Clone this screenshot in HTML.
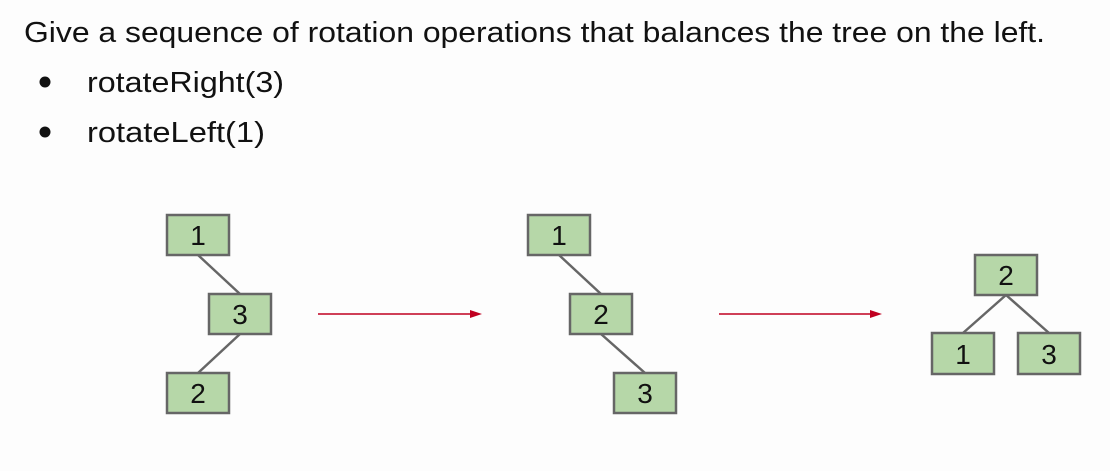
<!DOCTYPE html>
<html><head><meta charset="utf-8"><style>
html,body{margin:0;padding:0;background:#fdfdfd;}
svg{display:block;}
text{font-family:"Liberation Sans",sans-serif;}
</style></head><body>
<svg width="1110" height="471" viewBox="0 0 1110 471" xmlns="http://www.w3.org/2000/svg">
<rect width="1110" height="471" fill="#fdfdfd"/>
<text x="24" y="42" font-size="29" fill="#111" textLength="1021" lengthAdjust="spacingAndGlyphs">Give a sequence of rotation operations that balances the tree on the left.</text>
<circle cx="45" cy="82" r="5.5" fill="#111"/>
<circle cx="45" cy="132" r="5.5" fill="#111"/>
<text x="87" y="92" font-size="29" fill="#111" textLength="197" lengthAdjust="spacingAndGlyphs">rotateRight(3)</text>
<text x="87" y="142" font-size="29" fill="#111" textLength="178" lengthAdjust="spacingAndGlyphs">rotateLeft(1)</text>
<g stroke="#666" stroke-width="2.5">
<line x1="198" y1="255" x2="240" y2="294"/>
<line x1="240" y1="334" x2="198" y2="373"/>
<line x1="559" y1="255" x2="601" y2="294"/>
<line x1="601" y1="334" x2="645" y2="373"/>
<line x1="1006" y1="295" x2="963" y2="333"/>
<line x1="1006" y1="295" x2="1049" y2="333"/>
</g>
<g fill="#b6d7a8" stroke="#666" stroke-width="2.5">
<rect x="167" y="215" width="62" height="40"/>
<rect x="209" y="294" width="62" height="40"/>
<rect x="167" y="373" width="62" height="40"/>
<rect x="528" y="215" width="62" height="40"/>
<rect x="570" y="294" width="62" height="40"/>
<rect x="614" y="373" width="62" height="40"/>
<rect x="975" y="255" width="62" height="40"/>
<rect x="932" y="333" width="62" height="41"/>
<rect x="1018" y="333" width="62" height="41"/>
</g>
<g font-size="28" fill="#111" text-anchor="middle">
<text x="198" y="245">1</text>
<text x="240" y="324">3</text>
<text x="198" y="403">2</text>
<text x="559" y="245">1</text>
<text x="601" y="324">2</text>
<text x="645" y="403">3</text>
<text x="1006" y="285">2</text>
<text x="963" y="364">1</text>
<text x="1049" y="364">3</text>
</g>
<g stroke="#c00020" stroke-width="1.5">
<line x1="318" y1="314" x2="472" y2="314"/>
<line x1="719" y1="314" x2="872" y2="314"/>
</g>
<g fill="#c00020">
<polygon points="470,310 482,314 470,318"/>
<polygon points="870,310 882,314 870,318"/>
</g>
</svg>
</body></html>
